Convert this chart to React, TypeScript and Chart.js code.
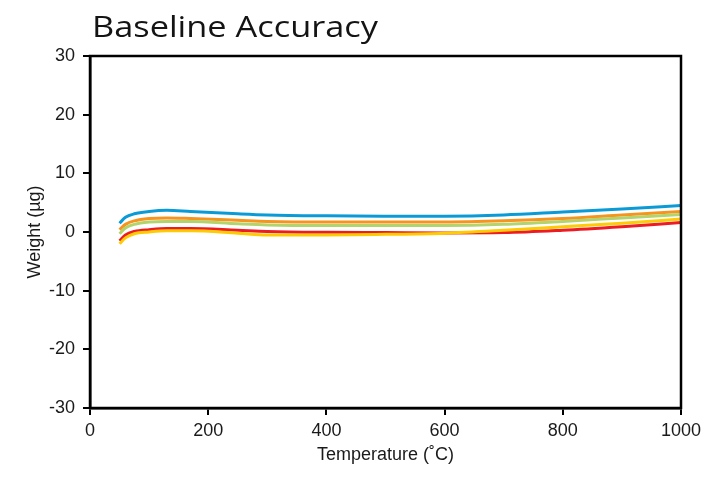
import React, { useEffect, useRef } from "react";
import { Chart, registerables } from "chart.js";

Chart.register(...registerables);

const temps = [50, 60, 75, 100, 130, 170, 250, 300, 400, 500, 600, 700, 800, 900, 1000];
const blueSeries = [1.5, 2.5, 3.1, 3.5, 3.7, 3.5, 3.1, 2.9, 2.75, 2.7, 2.7, 2.9, 3.4, 3.9, 4.5];
const orangeSeries = [0.4, 1.3, 1.9, 2.3, 2.4, 2.3, 2.0, 1.8, 1.7, 1.7, 1.7, 1.9, 2.3, 2.9, 3.5];
const greenSeries = [-0.3, 0.7, 1.3, 1.7, 1.8, 1.8, 1.4, 1.2, 1.1, 1.1, 1.1, 1.3, 1.8, 2.4, 3.0];
const yellowSeries = [-2.0, -1.0, -0.3, 0.0, 0.2, 0.2, -0.2, -0.5, -0.5, -0.4, -0.2, 0.3, 0.9, 1.5, 2.2];
const redSeries = [-1.5, -0.5, 0.1, 0.4, 0.6, 0.6, 0.3, 0.1, -0.05, -0.1, -0.15, -0.1, 0.3, 0.9, 1.6];

const titleText = "Baseline Accuracy";
const xTitle = "Temperature (˚C)";
const yTitle = "Weight (µg)";

const toPoints = (vals: number[]) => temps.map((t, i) => ({ x: t, y: vals[i] }));

export default function App() {
  const ref = useRef<HTMLCanvasElement | null>(null);

  useEffect(() => {
    document.body.style.margin = "0";
    const canvas = ref.current;
    if (!canvas) return;

    const framePlugin = {
      id: "frame",
      afterDatasetsDraw(chart: any) {
        const { ctx, chartArea } = chart;
        ctx.save();
        ctx.strokeStyle = "#000";
        ctx.lineWidth = 2.5;
        ctx.strokeRect(chartArea.left, chartArea.top, chartArea.right - chartArea.left, chartArea.bottom - chartArea.top);
        ctx.restore();
      },
    };
    const titlePlugin = {
      id: "customTitle",
      afterDraw(chart: any) {
        const { ctx } = chart;
        ctx.save();
        ctx.fillStyle = "#141414";
        ctx.font = "400 30px 'Open Sans'";
        ctx.textBaseline = "alphabetic";
        ctx.textAlign = "left";
        const w = ctx.measureText(titleText).width;
        const target = 286;
        ctx.translate(92, 37);
        ctx.scale(target / w, 1);
        ctx.fillText(titleText, 0, 0);
        ctx.restore();
      },
    };

    const mk = (label: string, vals: number[], color: string) => ({
      label,
      data: toPoints(vals),
      borderColor: color,
      backgroundColor: color,
      borderWidth: 3,
      pointRadius: 0,
      cubicInterpolationMode: "monotone" as const,
      fill: false,
    });

    const tickFont = { family: "Liberation Sans", size: 18 };
    const fmt = (v: any) => String(v);

    const chart = new Chart(canvas, {
      type: "line",
      data: {
        datasets: [
          mk("Yellow", yellowSeries, "#ffcb05"),
          mk("Red", redSeries, "#ed1c24"),
          mk("Green", greenSeries, "#b3d36c"),
          mk("Orange", orangeSeries, "#f7941d"),
          mk("Blue", blueSeries, "#0a9bd7"),
        ],
      },
      options: {
        animation: false,
        responsive: false,
        maintainAspectRatio: false,
        layout: { padding: { left: 0, right: 40, top: 56, bottom: 0 } },
        plugins: { legend: { display: false }, tooltip: { enabled: false }, title: { display: false } },
        scales: {
          x: {
            type: "linear",
            min: 0,
            max: 1000,
            afterFit: (s: any) => { s.height = 69; },
            ticks: { stepSize: 200, color: "#1a1a1a", font: tickFont, padding: 5, maxRotation: 0, callback: fmt },
            grid: { display: true, drawOnChartArea: false, drawTicks: true, tickLength: 7, color: "#000", lineWidth: 2 },
            border: { display: true, color: "#000", width: 2.5 },
            title: { display: true, text: xTitle, color: "#1a1a1a", font: { family: "Liberation Sans", size: 18 }, padding: { top: 0, bottom: 11 } },
          },
          y: {
            type: "linear",
            min: -30,
            max: 30,
            afterFit: (s: any) => { s.width = 90; },
            ticks: { stepSize: 10, color: "#1a1a1a", font: tickFont, padding: 8, callback: fmt },
            grid: { display: true, drawOnChartArea: false, drawTicks: true, tickLength: 7, color: "#000", lineWidth: 2 },
            border: { display: true, color: "#000", width: 2.5 },
            title: { display: true, text: yTitle, color: "#1a1a1a", font: { family: "Liberation Sans", size: 18 }, padding: { top: 24, bottom: 0 } },
          },
        },
      },
      plugins: [framePlugin, titlePlugin],
    } as any);

    return () => chart.destroy();
  }, []);

  return <canvas ref={ref} width={721} height={477} style={{ display: "block" }} />;
}
